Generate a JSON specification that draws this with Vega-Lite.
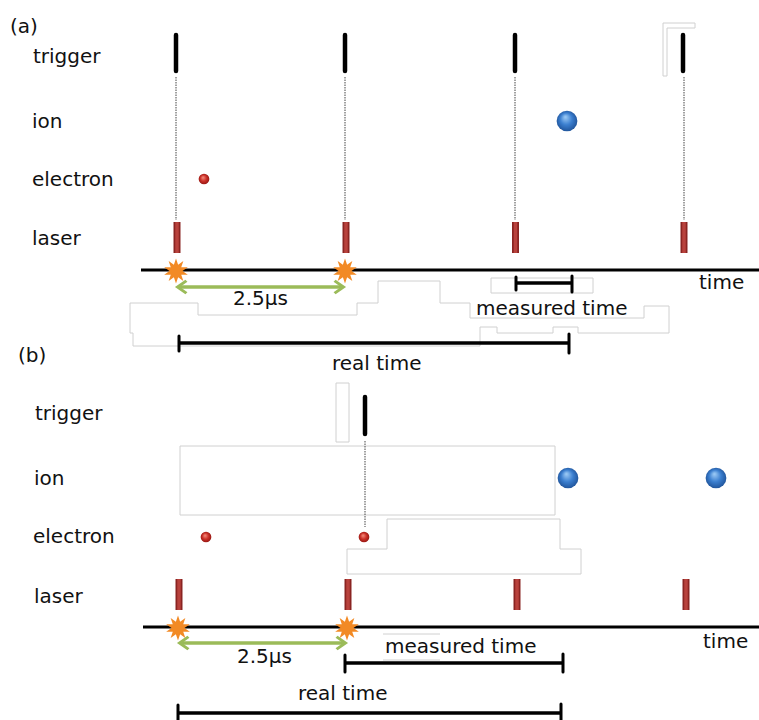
{
  "$schema": "https://vega.github.io/schema/vega-lite/v6.json",
  "width": 759,
  "height": 720,
  "autosize": "none",
  "padding": 0,
  "background": "white",
  "config": {"view": {"stroke": null}},
  "datasets": {
    "outlines": [
      {"id": "o1", "ord": 1, "x": 663, "y": 76}, {"id": "o1", "ord": 2, "x": 663, "y": 23}, {"id": "o1", "ord": 3, "x": 695, "y": 23}, {"id": "o1", "ord": 4, "x": 695, "y": 28}, {"id": "o1", "ord": 5, "x": 667, "y": 28}, {"id": "o1", "ord": 6, "x": 667, "y": 76}, {"id": "o1", "ord": 7, "x": 663, "y": 76},
      {"id": "o2", "ord": 1, "x": 130, "y": 303}, {"id": "o2", "ord": 2, "x": 198, "y": 303}, {"id": "o2", "ord": 3, "x": 198, "y": 315}, {"id": "o2", "ord": 4, "x": 357, "y": 315}, {"id": "o2", "ord": 5, "x": 357, "y": 303}, {"id": "o2", "ord": 6, "x": 378, "y": 303}, {"id": "o2", "ord": 7, "x": 378, "y": 281}, {"id": "o2", "ord": 8, "x": 440, "y": 281}, {"id": "o2", "ord": 9, "x": 440, "y": 303}, {"id": "o2", "ord": 10, "x": 470, "y": 303}, {"id": "o2", "ord": 11, "x": 470, "y": 318}, {"id": "o2", "ord": 12, "x": 644, "y": 318}, {"id": "o2", "ord": 13, "x": 644, "y": 306}, {"id": "o2", "ord": 14, "x": 669, "y": 306}, {"id": "o2", "ord": 15, "x": 669, "y": 333}, {"id": "o2", "ord": 16, "x": 578, "y": 333}, {"id": "o2", "ord": 17, "x": 578, "y": 327}, {"id": "o2", "ord": 18, "x": 553, "y": 327}, {"id": "o2", "ord": 19, "x": 553, "y": 333}, {"id": "o2", "ord": 20, "x": 497, "y": 333}, {"id": "o2", "ord": 21, "x": 497, "y": 327}, {"id": "o2", "ord": 22, "x": 480, "y": 327}, {"id": "o2", "ord": 23, "x": 480, "y": 346}, {"id": "o2", "ord": 24, "x": 133, "y": 346}, {"id": "o2", "ord": 25, "x": 133, "y": 333}, {"id": "o2", "ord": 26, "x": 130, "y": 333}, {"id": "o2", "ord": 27, "x": 130, "y": 303},
      {"id": "o3", "ord": 1, "x": 491, "y": 278}, {"id": "o3", "ord": 2, "x": 593, "y": 278}, {"id": "o3", "ord": 3, "x": 593, "y": 293}, {"id": "o3", "ord": 4, "x": 491, "y": 293}, {"id": "o3", "ord": 5, "x": 491, "y": 278},
      {"id": "o4", "ord": 1, "x": 336, "y": 383}, {"id": "o4", "ord": 2, "x": 349, "y": 383}, {"id": "o4", "ord": 3, "x": 349, "y": 442}, {"id": "o4", "ord": 4, "x": 336, "y": 442}, {"id": "o4", "ord": 5, "x": 336, "y": 383},
      {"id": "o5", "ord": 1, "x": 180, "y": 446}, {"id": "o5", "ord": 2, "x": 555, "y": 446}, {"id": "o5", "ord": 3, "x": 555, "y": 515}, {"id": "o5", "ord": 4, "x": 180, "y": 515}, {"id": "o5", "ord": 5, "x": 180, "y": 446},
      {"id": "o6", "ord": 1, "x": 387, "y": 519}, {"id": "o6", "ord": 2, "x": 560, "y": 519}, {"id": "o6", "ord": 3, "x": 560, "y": 549}, {"id": "o6", "ord": 4, "x": 581, "y": 549}, {"id": "o6", "ord": 5, "x": 581, "y": 574}, {"id": "o6", "ord": 6, "x": 347, "y": 574}, {"id": "o6", "ord": 7, "x": 347, "y": 549}, {"id": "o6", "ord": 8, "x": 387, "y": 549}, {"id": "o6", "ord": 9, "x": 387, "y": 519},
      {"id": "o7", "ord": 1, "x": 383, "y": 634}, {"id": "o7", "ord": 2, "x": 440, "y": 634},
      {"id": "o8", "ord": 1, "x": 383, "y": 660}, {"id": "o8", "ord": 2, "x": 440, "y": 660}
    ],
    "triggers": [
      {"x": 176, "y1": 35, "y2": 71}, {"x": 345, "y1": 35, "y2": 71}, {"x": 515, "y1": 35, "y2": 71}, {"x": 683, "y1": 35, "y2": 71},
      {"x": 365, "y1": 397, "y2": 434}
    ],
    "dotted": [
      {"x": 176, "y1": 77, "y2": 220}, {"x": 345, "y1": 77, "y2": 220}, {"x": 515, "y1": 77, "y2": 220}, {"x": 684, "y1": 77, "y2": 220},
      {"x": 365, "y1": 441, "y2": 527}
    ],
    "lasers": [
      {"x": 177, "y1": 222, "y2": 253}, {"x": 346, "y1": 222, "y2": 253}, {"x": 515.5, "y1": 222, "y2": 253}, {"x": 684, "y1": 222, "y2": 253},
      {"x": 179, "y1": 579, "y2": 610}, {"x": 348, "y1": 579, "y2": 610}, {"x": 517, "y1": 579, "y2": 610}, {"x": 686, "y1": 579, "y2": 610}
    ],
    "electrons": [{"x": 204, "y": 179}, {"x": 206, "y": 537}, {"x": 364, "y": 537}],
    "ions": [{"x": 567, "y": 121}, {"x": 568, "y": 478}, {"x": 716, "y": 478}],
    "axes": [{"x1": 141, "x2": 759, "y": 270}, {"x1": 143, "x2": 759, "y": 627}],
    "stars": [{"x": 176, "y": 271}, {"x": 345, "y": 271}, {"x": 178, "y": 628}, {"x": 347, "y": 628}],
    "green": [{"x1": 180, "x2": 341, "y": 287}, {"x1": 182, "x2": 343, "y": 643}],
    "heads": [
      {"x": 183, "y": 287, "dir": "left"}, {"x": 338, "y": 287, "dir": "right"},
      {"x": 185, "y": 643, "dir": "left"}, {"x": 340, "y": 643, "dir": "right"}
    ],
    "spans": [
      {"x1": 516, "x2": 572, "y": 283}, {"x1": 179, "x2": 569, "y": 343},
      {"x1": 345, "x2": 563, "y": 663}, {"x1": 178, "x2": 561, "y": 713}
    ],
    "ticks": [
      {"x": 516, "y1": 277, "y2": 290}, {"x": 572, "y1": 276, "y2": 292},
      {"x": 179, "y1": 336, "y2": 351}, {"x": 569, "y1": 334, "y2": 353},
      {"x": 345, "y1": 655, "y2": 672}, {"x": 563, "y1": 654, "y2": 672},
      {"x": 178, "y1": 705, "y2": 720}, {"x": 561, "y1": 704, "y2": 720}
    ],
    "texts": [
      {"x": 10, "y": 33, "text": "(a)"},
      {"x": 33, "y": 63, "text": "trigger"},
      {"x": 32, "y": 128, "text": "ion"},
      {"x": 32, "y": 186, "text": "electron"},
      {"x": 32, "y": 245, "text": "laser"},
      {"x": 233, "y": 305, "text": "2.5μs"},
      {"x": 476, "y": 315, "text": "measured time"},
      {"x": 699, "y": 289, "text": "time"},
      {"x": 332, "y": 370, "text": "real time"},
      {"x": 18, "y": 362, "text": "(b)"},
      {"x": 35, "y": 420, "text": "trigger"},
      {"x": 34, "y": 485, "text": "ion"},
      {"x": 33, "y": 543, "text": "electron"},
      {"x": 34, "y": 603, "text": "laser"},
      {"x": 237, "y": 663, "text": "2.5μs"},
      {"x": 385, "y": 653, "text": "measured time"},
      {"x": 703, "y": 648, "text": "time"},
      {"x": 298, "y": 700, "text": "real time"}
    ]
  },
  "layer": [
    {
      "data": {"name": "outlines"},
      "mark": {"type": "line", "color": "#d0d0d0", "strokeWidth": 1},
      "encoding": {
        "x": {"field": "x", "type": "quantitative", "scale": {"domain": [0, 759], "nice": false, "zero": false}, "axis": null},
        "y": {"field": "y", "type": "quantitative", "scale": {"domain": [0, 720], "nice": false, "zero": false, "reverse": true}, "axis": null},
        "detail": {"field": "id"},
        "order": {"field": "ord"}
      }
    },
    {
      "data": {"name": "dotted"},
      "mark": {"type": "rule", "color": "#444444", "strokeWidth": 1, "strokeDash": [1.5, 1]},
      "encoding": {
        "x": {"field": "x", "type": "quantitative", "scale": {"domain": [0, 759], "nice": false, "zero": false}, "axis": null},
        "y": {"field": "y1", "type": "quantitative", "scale": {"domain": [0, 720], "nice": false, "zero": false, "reverse": true}, "axis": null},
        "y2": {"field": "y2"}
      }
    },
    {
      "data": {"name": "triggers"},
      "mark": {"type": "rule", "color": "#000000", "strokeWidth": 4.5, "strokeCap": "round"},
      "encoding": {
        "x": {"field": "x", "type": "quantitative", "scale": {"domain": [0, 759], "nice": false, "zero": false}, "axis": null},
        "y": {"field": "y1", "type": "quantitative", "scale": {"domain": [0, 720], "nice": false, "zero": false, "reverse": true}, "axis": null},
        "y2": {"field": "y2"}
      }
    },
    {
      "data": {"name": "lasers"},
      "mark": {"type": "rule", "color": "#8a2422", "strokeWidth": 7, "strokeCap": "butt"},
      "encoding": {
        "x": {"field": "x", "type": "quantitative", "scale": {"domain": [0, 759], "nice": false, "zero": false}, "axis": null},
        "y": {"field": "y1", "type": "quantitative", "scale": {"domain": [0, 720], "nice": false, "zero": false, "reverse": true}, "axis": null},
        "y2": {"field": "y2"}
      }
    },
    {
      "data": {"name": "lasers"},
      "mark": {"type": "rule", "color": "#b8423d", "strokeWidth": 3.5, "strokeCap": "butt"},
      "encoding": {
        "x": {"field": "x", "type": "quantitative", "scale": {"domain": [0, 759], "nice": false, "zero": false}, "axis": null},
        "y": {"field": "y1", "type": "quantitative", "scale": {"domain": [0, 720], "nice": false, "zero": false, "reverse": true}, "axis": null},
        "y2": {"field": "y2"}
      }
    },
    {
      "data": {"name": "axes"},
      "mark": {"type": "rule", "color": "#000000", "strokeWidth": 3},
      "encoding": {
        "x": {"field": "x1", "type": "quantitative", "scale": {"domain": [0, 759], "nice": false, "zero": false}, "axis": null},
        "x2": {"field": "x2"},
        "y": {"field": "y", "type": "quantitative", "scale": {"domain": [0, 720], "nice": false, "zero": false, "reverse": true}, "axis": null}
      }
    },
    {
      "data": {"name": "green"},
      "mark": {"type": "rule", "color": "#9bbb59", "strokeWidth": 3.5},
      "encoding": {
        "x": {"field": "x1", "type": "quantitative", "scale": {"domain": [0, 759], "nice": false, "zero": false}, "axis": null},
        "x2": {"field": "x2"},
        "y": {"field": "y", "type": "quantitative", "scale": {"domain": [0, 720], "nice": false, "zero": false, "reverse": true}, "axis": null}
      }
    },
    {
      "data": {"name": "heads"},
      "mark": {"type": "point", "filled": true, "color": "#9bbb59", "opacity": 1, "size": 260},
      "encoding": {
        "x": {"field": "x", "type": "quantitative", "scale": {"domain": [0, 759], "nice": false, "zero": false}, "axis": null},
        "y": {"field": "y", "type": "quantitative", "scale": {"domain": [0, 720], "nice": false, "zero": false, "reverse": true}, "axis": null},
        "shape": {"field": "dir", "type": "nominal", "legend": null, "scale": {"domain": ["left", "right"], "range": ["M-1,0L0.3,-0.9L0.55,-0.65L-0.35,0L0.55,0.65L0.3,0.9Z", "M1,0L-0.3,-0.9L-0.55,-0.65L0.35,0L-0.55,0.65L-0.3,0.9Z"]}}
      }
    },
    {
      "data": {"name": "stars"},
      "mark": {"type": "point", "filled": true, "color": "#f28a25", "opacity": 1, "size": 620, "shape": "M0,-1L0.17,-0.5L0.59,-0.81L0.42,-0.3L0.95,-0.31L0.52,0L0.95,0.31L0.42,0.3L0.59,0.81L0.17,0.5L0,1L-0.17,0.5L-0.59,0.81L-0.42,0.3L-0.95,0.31L-0.52,0L-0.95,-0.31L-0.42,-0.3L-0.59,-0.81L-0.17,-0.5Z"},
      "encoding": {
        "x": {"field": "x", "type": "quantitative", "scale": {"domain": [0, 759], "nice": false, "zero": false}, "axis": null},
        "y": {"field": "y", "type": "quantitative", "scale": {"domain": [0, 720], "nice": false, "zero": false, "reverse": true}, "axis": null}
      }
    },
    {
      "data": {"name": "electrons"},
      "mark": {"type": "point", "shape": "circle", "filled": true, "opacity": 1, "size": 115, "fill": {"gradient": "radial", "x1": 0.4, "y1": 0.35, "r1": 0.02, "x2": 0.5, "y2": 0.5, "r2": 0.55, "stops": [{"offset": 0, "color": "#f59080"}, {"offset": 0.5, "color": "#cc3028"}, {"offset": 1, "color": "#8e1410"}]}},
      "encoding": {
        "x": {"field": "x", "type": "quantitative", "scale": {"domain": [0, 759], "nice": false, "zero": false}, "axis": null},
        "y": {"field": "y", "type": "quantitative", "scale": {"domain": [0, 720], "nice": false, "zero": false, "reverse": true}, "axis": null}
      }
    },
    {
      "data": {"name": "ions"},
      "mark": {"type": "point", "shape": "circle", "filled": true, "opacity": 1, "size": 430, "fill": {"gradient": "radial", "x1": 0.42, "y1": 0.3, "r1": 0.02, "x2": 0.5, "y2": 0.5, "r2": 0.55, "stops": [{"offset": 0, "color": "#9ccaf5"}, {"offset": 0.5, "color": "#3b7fd0"}, {"offset": 1, "color": "#1d4f94"}]}},
      "encoding": {
        "x": {"field": "x", "type": "quantitative", "scale": {"domain": [0, 759], "nice": false, "zero": false}, "axis": null},
        "y": {"field": "y", "type": "quantitative", "scale": {"domain": [0, 720], "nice": false, "zero": false, "reverse": true}, "axis": null}
      }
    },
    {
      "data": {"name": "spans"},
      "mark": {"type": "rule", "color": "#000000", "strokeWidth": 3.5},
      "encoding": {
        "x": {"field": "x1", "type": "quantitative", "scale": {"domain": [0, 759], "nice": false, "zero": false}, "axis": null},
        "x2": {"field": "x2"},
        "y": {"field": "y", "type": "quantitative", "scale": {"domain": [0, 720], "nice": false, "zero": false, "reverse": true}, "axis": null}
      }
    },
    {
      "data": {"name": "ticks"},
      "mark": {"type": "rule", "color": "#000000", "strokeWidth": 3, "strokeCap": "round"},
      "encoding": {
        "x": {"field": "x", "type": "quantitative", "scale": {"domain": [0, 759], "nice": false, "zero": false}, "axis": null},
        "y": {"field": "y1", "type": "quantitative", "scale": {"domain": [0, 720], "nice": false, "zero": false, "reverse": true}, "axis": null},
        "y2": {"field": "y2"}
      }
    },
    {
      "data": {"name": "texts"},
      "mark": {"type": "text", "align": "left", "baseline": "alphabetic", "font": "DejaVu Sans", "fontSize": 20, "color": "#111111"},
      "encoding": {
        "x": {"field": "x", "type": "quantitative", "scale": {"domain": [0, 759], "nice": false, "zero": false}, "axis": null},
        "y": {"field": "y", "type": "quantitative", "scale": {"domain": [0, 720], "nice": false, "zero": false, "reverse": true}, "axis": null},
        "text": {"field": "text"}
      }
    }
  ]
}
